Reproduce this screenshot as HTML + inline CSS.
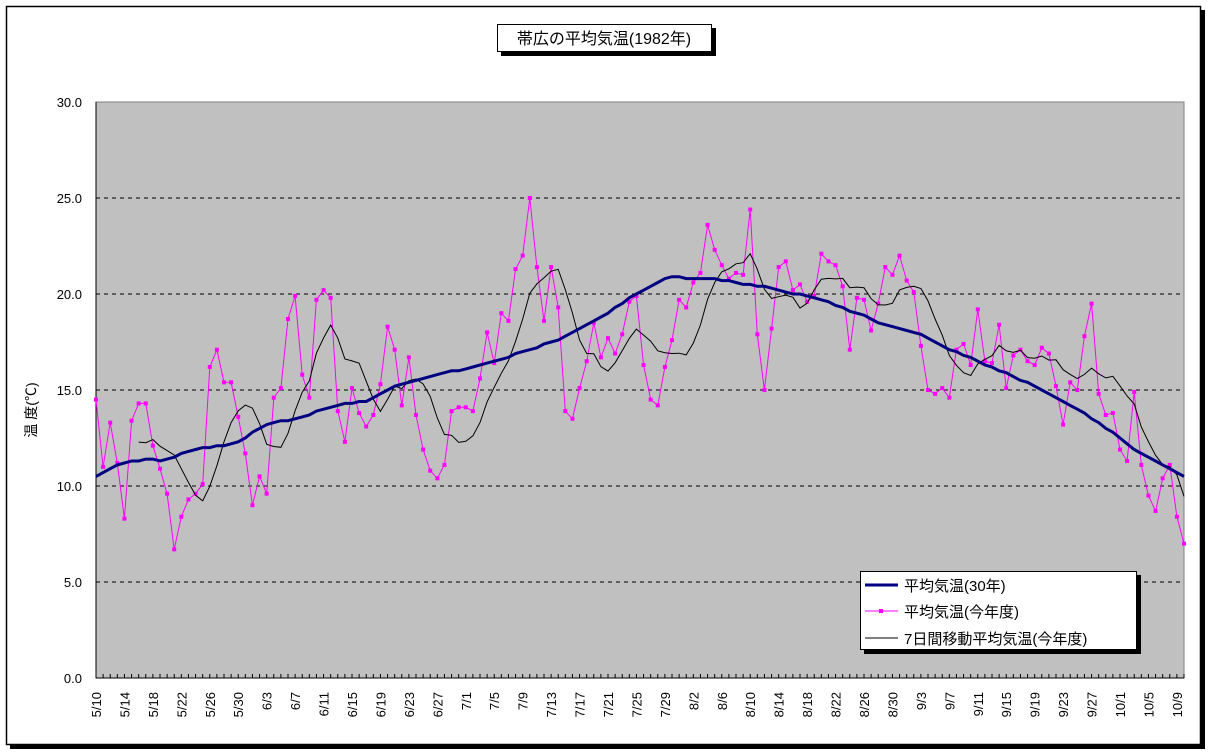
<!DOCTYPE html>
<html><head><meta charset="utf-8"><style>
html,body{margin:0;padding:0;background:#fff;}
svg{display:block;font-family:"Liberation Sans","Noto Sans CJK JP",sans-serif;}
</style></head><body>
<svg id="chart" width="1213" height="754" viewBox="0 0 1213 754">
<rect x="10" y="10" width="1195" height="739" fill="#000"/>
<rect x="6.5" y="6.5" width="1194" height="738" fill="#fff" stroke="#000" stroke-width="1.5"/>
<rect x="501" y="28" width="215" height="28" fill="#000"/>
<rect x="497.5" y="24.5" width="214" height="27" fill="#fff" stroke="#000"/>
<text x="604" y="44" font-size="16" text-anchor="middle">帯広の平均気温(1982年)</text>
<rect x="96" y="102" width="1088" height="576" fill="#c0c0c0" stroke="#808080"/>
<g id="grid"></g>
<g id="yaxis"></g>
<g id="xaxis"></g>
<text transform="translate(36,410) rotate(-90)" font-size="14" text-anchor="middle">温 度(℃)</text>
<g id="series"></g>
<g>
<rect x="864" y="575" width="277" height="79" fill="#000"/>
<rect x="860.5" y="571.5" width="276" height="78" fill="#fff" stroke="#000"/>
<g><line x1="865" y1="585" x2="898" y2="585" stroke="#000080" stroke-width="3"/><text x="904" y="591" font-size="15">平均気温(30年)</text></g>
<g><line x1="865" y1="611" x2="898" y2="611" stroke="#ff00ff"/><rect x="879" y="609" width="4" height="4" fill="#ff00ff"/><text x="904" y="617" font-size="15">平均気温(今年度)</text></g>
<g><line x1="865" y1="638" x2="898" y2="638" stroke="#000"/><text x="904" y="644" font-size="15">7日間移動平均気温(今年度)</text></g>
</g>
</svg>
<script>
const yTicks=[0,5,10,15,20,25,30];
const thisYear=[14.5,11.0,13.3,11.2,8.3,13.4,14.3,14.3,12.1,10.9,9.6,6.7,8.4,9.3,9.6,10.1,16.2,17.1,15.4,15.4,13.6,11.7,9.0,10.5,9.6,14.6,15.1,18.7,19.9,15.8,14.6,19.7,20.2,19.8,13.9,12.3,15.1,13.8,13.1,
13.7,15.3,18.3,17.1,14.2,16.7,13.7,11.9,10.8,10.4,11.1,13.9,14.1,14.1,13.9,15.6,18.0,16.4,19.0,18.6,21.3,22.0,25.0,21.4,18.6,21.4,19.3,13.9,13.5,15.1,16.5,18.5,16.7,17.7,16.9,17.9,19.6,19.9,
16.3,14.5,14.2,16.2,17.6,19.7,19.3,20.6,21.1,23.6,22.3,21.5,20.8,21.1,21.0,24.4,17.9,15.0,18.2,21.4,21.7,20.2,20.5,19.6,19.9,22.1,21.7,21.5,20.4,17.1,19.8,19.7,18.1,19.5,21.4,21.0,22.0,20.7,
20.1,17.3,15.0,14.8,15.1,14.6,17.1,17.4,16.3,19.2,16.5,16.4,18.4,15.1,16.8,17.1,16.5,16.3,17.2,16.9,15.2,13.2,15.4,15.0,17.8,19.5,14.8,13.7,13.8,11.9,11.3,14.9,11.1,9.5,8.7,10.4,11.1,8.4,7.0];
const normal30=[10.5,10.7,10.9,11.1,11.2,11.3,11.3,11.4,11.4,11.3,11.4,11.5,11.7,11.8,11.9,12.0,12.0,12.1,12.1,12.2,12.3,12.5,12.8,13.0,13.2,13.3,13.4,13.4,13.5,13.6,13.7,13.9,14.0,14.1,14.2,14.3,14.3,14.4,14.4,14.6,
14.8,15.0,15.2,15.3,15.4,15.5,15.6,15.7,15.8,15.9,16.0,16.0,16.1,16.2,16.3,16.4,16.5,16.6,16.7,16.9,17.0,17.1,17.2,17.4,17.5,17.6,17.8,18.0,18.2,18.4,18.6,18.8,19.0,19.3,19.5,19.8,20.0,20.2,20.4,20.6,
20.8,20.9,20.9,20.8,20.8,20.8,20.8,20.8,20.7,20.7,20.6,20.5,20.5,20.4,20.4,20.3,20.2,20.1,20.0,20.0,19.9,19.8,19.7,19.6,19.4,19.3,19.1,19.0,18.9,18.7,18.5,18.4,18.3,18.2,18.1,18.0,17.9,17.7,17.5,17.3,
17.1,17.0,16.8,16.7,16.5,16.3,16.2,16.0,15.9,15.7,15.5,15.4,15.2,15.0,14.8,14.6,14.4,14.2,14.0,13.8,13.5,13.3,13.0,12.8,12.5,12.2,11.9,11.7,11.5,11.3,11.1,10.9,10.7,10.5];
const startMonth=5,startDay=10;
const NS='http://www.w3.org/2000/svg';
const L=96,R=1184,T=102,B=678,N=thisYear.length;
const X=i=>L+i*(R-L)/(N-1);
const Y=v=>B-(v-0)/(30-0)*(B-T);
const mk=(tag,attrs,parent)=>{const e=document.createElementNS(NS,tag);for(const k in attrs)e.setAttribute(k,attrs[k]);parent.appendChild(e);return e;};
const grid=document.getElementById('grid'),ya=document.getElementById('yaxis'),xa=document.getElementById('xaxis'),ser=document.getElementById('series');
yTicks.forEach(v=>{
  if(v>0&&v<30){const g=mk('line',{x1:L,x2:R,y1:Y(v),y2:Y(v),stroke:'#000','stroke-dasharray':'4,4'},grid);
  
  }
  const t=mk('text',{x:82,y:Y(v)+5,'font-size':13,'text-anchor':'end'},ya);t.textContent=v.toFixed(1);
  
  
});
mk('line',{x1:L,x2:L,y1:T,y2:B,stroke:'#000'},ya);
mk('line',{x1:L,x2:R,y1:B,y2:B,stroke:'#000'},xa);
const days=[31,30,31,31,30,31];
function dateOf(i){let m=startMonth,d=startDay+i;while(d>days[m-5]){d-=days[m-5];m++;}return m+'/'+d;}
for(let i=0;i<N;i++){
  mk('line',{x1:X(i),x2:X(i),y1:B,y2:B-4,stroke:'#000'},xa);
  if(i%4===0){const t=mk('text',{transform:'translate('+(X(i)+5)+',692) rotate(-90)','font-size':13,'text-anchor':'end'},xa);t.textContent=dateOf(i);
  
  }
}
const pts=a=>a.map((v,i)=>v==null?null:X(i).toFixed(1)+','+Y(v).toFixed(1)).filter(p=>p).join(' ');
const ma=thisYear.map((v,i)=>i<6?null:thisYear.slice(i-6,i+1).reduce((s,x)=>s+x,0)/7);
const pm=mk('polyline',{points:pts(thisYear),fill:'none',stroke:'#ff00ff','stroke-width':1},ser);


thisYear.forEach((v,i)=>{const r=mk('rect',{x:X(i)-2,y:Y(v)-2,width:4,height:4,fill:'#ff00ff'},ser);
  
  });
const pma=mk('polyline',{points:pts(ma),fill:'none',stroke:'#000','stroke-width':1},ser);


const pn=mk('polyline',{points:pts(normal30),fill:'none',stroke:'#000080','stroke-width':3},ser);


</script>
</body></html>
